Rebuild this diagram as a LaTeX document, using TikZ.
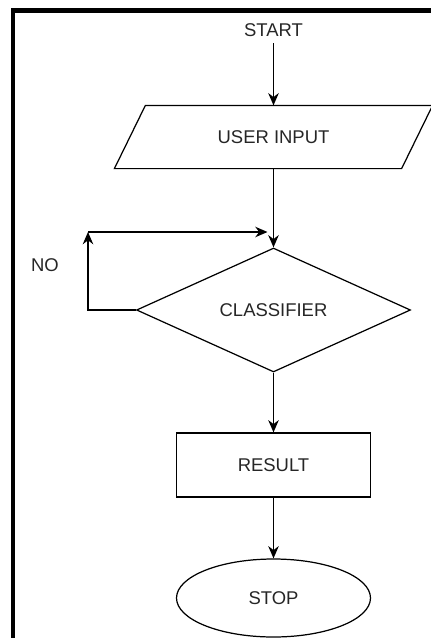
\documentclass[tikz,border=0pt]{standalone}
\usepackage{fontspec}
\setmainfont{Liberation Sans}
\usepackage{xcolor}
\usepackage{tikz}
\usetikzlibrary{arrows.meta,shapes.geometric}

\begin{document}
\begin{tikzpicture}[
  every node/.style={font=\fontsize{10.5}{12.6}\selectfont, text=black!85},
  io/.style={rectangle, minimum width=5.72cm, minimum height=1.24cm, inner sep=0pt},
  decision/.style={draw, diamond, minimum width=5.48cm, minimum height=2.48cm, inner sep=0pt},
  box/.style={draw, rectangle, minimum width=3.88cm, minimum height=1.28cm, inner sep=0pt},
  term/.style={draw, ellipse, minimum width=3.88cm, minimum height=1.56cm, inner sep=0pt},
  >={Stealth[length=7pt, width=6pt]}, line width=0.7pt
]
  % Page frame
  \useasboundingbox (0,0) rectangle (8.6,-12.76);
  \draw[line width=2.6pt] (0.26,-12.9) -- (0.26,-0.21) -- (8.75,-0.21);
  % Flow nodes
  \node (start) at (5.47,-0.6)  {START};
  \node[io]       (input) at (5.47,-2.74)  {USER INPUT};
  \node[decision] (cls)   at (5.47,-6.2)   {CLASSIFIER};
  \node[box]      (res)   at (5.47,-9.3)   {RESULT};
  \node[term]     (stop)  at (5.47,-11.96) {STOP};
  \node (no) at (0.9,-5.3) {NO};
  % Slanted outline of the input node
  \draw ([xshift=0.31cm]input.north west) -- ([xshift=0.31cm]input.north east)
     -- ([xshift=-0.31cm]input.south east) -- ([xshift=-0.31cm]input.south west) -- cycle;
  % Loop back corners
  \coordinate (loopbot) at (1.76,-6.2);
  \coordinate (looptop) at (1.76,-4.64);
  \coordinate (loopend) at (5.35,-4.64);
  % Connections
  \draw[->] (start.south) -- (input.north);
  \draw[->] (input.south) -- (cls.north);
  \draw[->] (cls.west) -- (loopbot) -- (looptop);
  \draw[->] (looptop) -- (loopend);
  \draw[->] (cls.south) -- (res.north);
  \draw[->] (res.south) -- (stop.north);
\end{tikzpicture}
\end{document}
